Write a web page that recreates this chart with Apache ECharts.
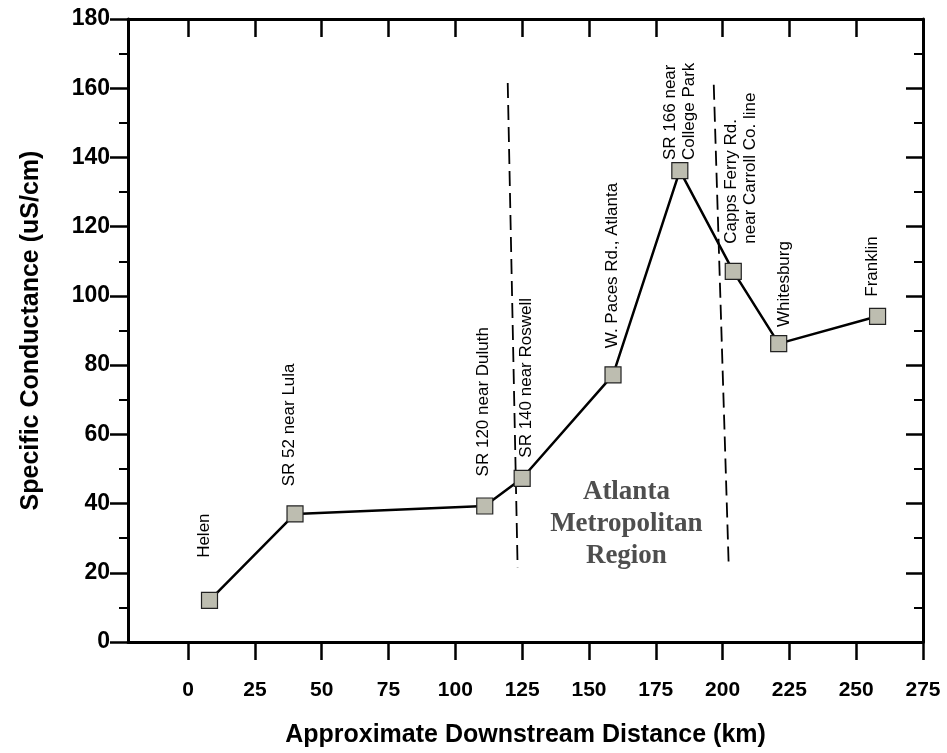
<!DOCTYPE html>
<html>
<head>
<meta charset="utf-8">
<script src="https://cdn.jsdelivr.net/npm/echarts@6/dist/echarts.min.js"></script>
<style>html,body{margin:0;padding:0;background:#fff;}#c{width:947px;height:753px;}</style>
</head>
<body>
<div id="c"></div>
<script>
// ---- data ----
var siteNames = ['Helen', 'SR 52 near Lula', 'SR 120 near Duluth', 'SR 140 near Roswell',
  'W. Paces Rd., Atlanta', 'SR 166 near\nCollege Park', 'Capps Ferry Rd.\nnear Carroll Co. line',
  'Whitesburg', 'Franklin'];
var distanceKm = [8, 40, 111, 125, 159, 184, 204, 221, 258];
var conductance = [12, 37, 39.3, 47.3, 77.2, 136.2, 107.1, 86.2, 94.1];
var xTicks = [0, 25, 50, 75, 100, 125, 150, 175, 200, 225, 250, 275];
var boundaryWest = [[119.6, 161.5], [123.3, 21.6]];
var boundaryEast = [[196.7, 161], [202.3, 21.9]];
var regionLabel = 'Atlanta\nMetropolitan\nRegion';
var regionLabelAt = [164, 34];

// label offsets (pixels, relative to marker centre): [dx, dy]
var labelOffsets = [[-5, -42], [-5, -27], [-1, -29], [5, -20], [0, -26], [1, -10], [8, -27], [6, -16], [-5, -19]];

var SANS = '"Liberation Sans", Arial, sans-serif';
var SYM = 16;

var pts = distanceKm.map(function (x, i) {
  var o = labelOffsets[i];
  return {
    value: [x, conductance[i]],
    label: {
      show: true,
      formatter: siteNames[i],
      rotate: 90,
      position: [o[0] + SYM / 2, o[1] + SYM / 2],
      align: 'left',
      verticalAlign: 'middle',
      fontSize: 17,
      lineHeight: 19,
      fontFamily: SANS,
      color: '#000'
    }
  };
});

var chart = echarts.init(document.getElementById('c'), null, { renderer: 'canvas' });
var axisLine = { show: true, onZero: false, lineStyle: { color: '#000', width: 3 } };
var tickStyle = { color: '#000', width: 2.5 };

chart.setOption({
  animation: false,
  backgroundColor: '#fff',
  grid: { left: 128, right: 24, top: 19, bottom: 110, containLabel: false },
  xAxis: [{
    type: 'value', position: 'bottom', min: -22.5, max: 275,
    axisLine: axisLine,
    axisTick: { show: true, length: 18, lineStyle: tickStyle, customValues: xTicks },
    axisLabel: { show: true, customValues: xTicks, margin: 38, fontSize: 21, fontWeight: 'bold', fontFamily: SANS, color: '#000' },
    splitLine: { show: false },
    name: 'Approximate Downstream Distance (km)', nameLocation: 'middle', nameGap: 81,
    nameTextStyle: { fontSize: 25, fontWeight: 'bold', fontFamily: SANS, color: '#000' }
  }, {
    type: 'value', position: 'top', min: -22.5, max: 275,
    axisLine: axisLine,
    axisTick: { show: true, inside: true, length: 18, lineStyle: tickStyle, customValues: xTicks },
    axisLabel: { show: false },
    splitLine: { show: false }
  }],
  yAxis: [{
    type: 'value', position: 'left', min: 0, max: 180, interval: 20,
    axisLine: axisLine,
    axisTick: { show: true, length: 18, lineStyle: tickStyle },
    minorTick: { show: true, splitNumber: 2, length: 9, lineStyle: { color: '#000', width: 2 } },
    axisLabel: { margin: 18, fontSize: 23, fontWeight: 'bold', fontFamily: SANS, color: '#000' },
    splitLine: { show: false },
    name: 'Specific Conductance (uS/cm)', nameLocation: 'middle', nameGap: 84, nameRotate: 90,
    nameTextStyle: { fontSize: 25, fontWeight: 'bold', fontFamily: SANS, color: '#000' }
  }, {
    type: 'value', position: 'right', min: 0, max: 180, interval: 20,
    axisLine: axisLine,
    axisTick: { show: true, inside: true, length: 17, lineStyle: tickStyle },
    minorTick: { show: true, splitNumber: 2, length: 9, lineStyle: { color: '#000', width: 2 } },
    axisLabel: { show: false },
    splitLine: { show: false }
  }],
  series: [{
    type: 'line',
    data: boundaryWest,
    symbol: 'none',
    lineStyle: { color: '#000', width: 1.8, type: [15, 7] },
    z: 1, silent: true
  }, {
    type: 'line',
    data: boundaryEast,
    symbol: 'none',
    lineStyle: { color: '#000', width: 1.8, type: [15, 7] },
    z: 1, silent: true
  }, {
    type: 'line',
    data: pts,
    symbol: 'rect',
    symbolSize: SYM,
    lineStyle: { color: '#000', width: 2.5 },
    itemStyle: { color: '#bdbdb0', borderColor: '#222', borderWidth: 1.2 },
    z: 3
  }, {
    type: 'scatter',
    data: [{
      value: regionLabelAt,
      label: {
        show: true, position: 'inside', formatter: regionLabel,
        fontFamily: '"Liberation Serif", "Times New Roman", serif',
        fontSize: 27, fontWeight: 'bold', lineHeight: 32, color: '#222', align: 'center'
      }
    }],
    symbolSize: 1,
    itemStyle: { color: 'rgba(0,0,0,0)' },
    silent: true
  }]
});
</script>
</body>
</html>
